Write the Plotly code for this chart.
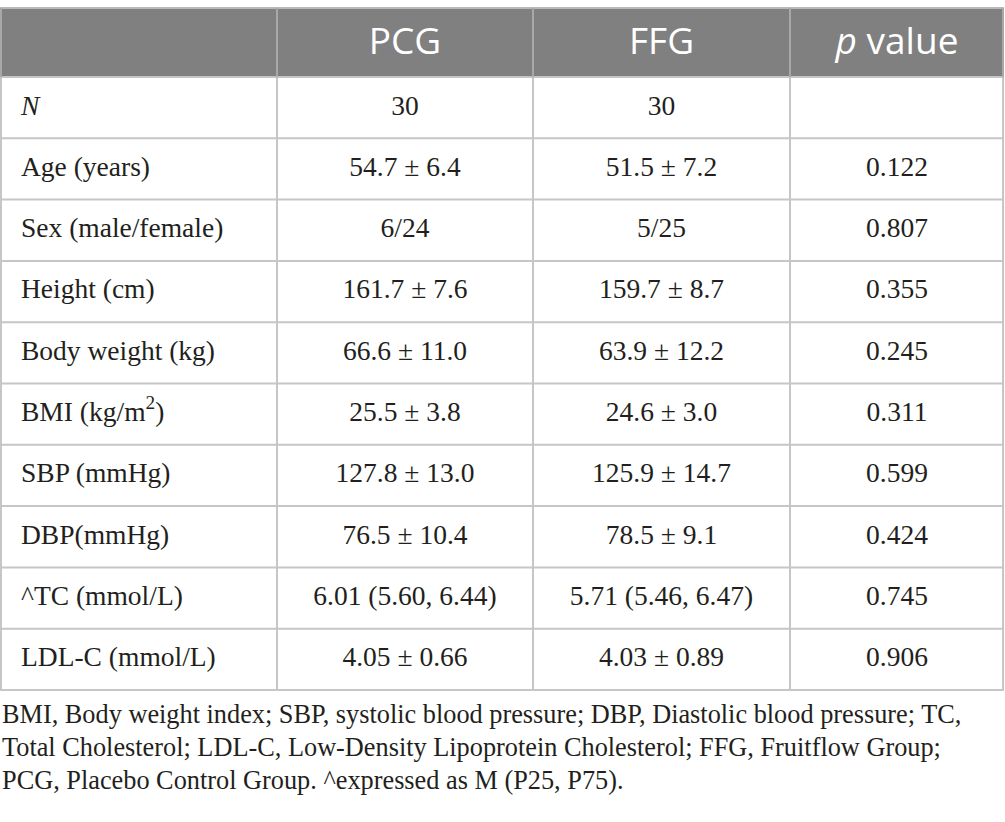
import plotly.graph_objects as go

# table contents
headers = ["", "PCG", "FFG", "<i>p</i> value"]
variables = ["<i>N</i>", "Age (years)", "Sex (male/female)", "Height (cm)",
             "Body weight (kg)", "BMI (kg/m<sup>2</sup>)", "SBP (mmHg)",
             "DBP(mmHg)", "^TC (mmol/L)", "LDL-C (mmol/L)"]
pcg = ["30", "54.7 ± 6.4", "6/24", "161.7 ± 7.6", "66.6 ± 11.0", "25.5 ± 3.8",
       "127.8 ± 13.0", "76.5 ± 10.4", "6.01 (5.60, 6.44)", "4.05 ± 0.66"]
ffg = ["30", "51.5 ± 7.2", "5/25", "159.7 ± 8.7", "63.9 ± 12.2", "24.6 ± 3.0",
       "125.9 ± 14.7", "78.5 ± 9.1", "5.71 (5.46, 6.47)", "4.03 ± 0.89"]
p_values = ["", "0.122", "0.807", "0.355", "0.245", "0.311",
            "0.599", "0.424", "0.745", "0.906"]
footnote = [
    "BMI, Body weight index; SBP, systolic blood pressure; DBP, Diastolic blood pressure; TC,",
    "Total Cholesterol; LDL-C, Low-Density Lipoprotein Cholesterol; FFG, Fruitflow Group;",
    "PCG, Placebo Control Group. ^expressed as M (P25, P75).",
]

# layout of the grid (pixels)
col_w = [277, 256, 257, 214]
top, head_h, row_h = 8, 69, 61.3
edges = [0]
for w in col_w:
    edges.append(edges[-1] + w)
centers = [(edges[i] + edges[i + 1]) / 2 for i in range(len(col_w))]
n = len(variables)
row_top = [top + head_h + i * row_h for i in range(n + 1)]
row_mid = [(row_top[i] + row_top[i + 1]) / 2 for i in range(n)]
bottom = row_top[-1]

body_font = dict(family="Liberation Serif", size=27.5, color="#231f20")
line_col = "#c6c6c6"


def text_trace(xs, ys, texts, pos, font):
    keep = [k for k, t in enumerate(texts) if t]   # skip empty cells
    return go.Scatter(x=[xs[k] for k in keep], y=[ys[k] for k in keep],
                      text=[texts[k] for k in keep], mode="text",
                      textposition=pos, textfont=font, hoverinfo="skip")


fig = go.Figure()

# header background
fig.add_shape(type="rect", x0=edges[0], x1=edges[-1], y0=top, y1=top + head_h,
              fillcolor="#808080", line_width=0, layer="below")

# header text
fig.add_trace(text_trace(centers, [top + head_h / 2 + 2] * 4, headers, "middle center",
                         dict(family="Open Sans", size=37, color="white")))

# body columns
fig.add_trace(text_trace([edges[0] + 21] * n, row_mid, variables, "middle right", body_font))
for j, col in enumerate([pcg, ffg, p_values]):
    fig.add_trace(text_trace([centers[j + 1]] * n, row_mid, col, "middle center", body_font))

# grid lines
fig.add_shape(type="line", x0=edges[0], x1=edges[-1], y0=top, y1=top,
              line=dict(color="#b8b8b8", width=2))
for y in row_top:
    fig.add_shape(type="line", x0=edges[0], x1=edges[-1], y0=y, y1=y,
                  line=dict(color=line_col, width=2))
for x in edges:
    x = min(max(x, 1), edges[-1] - 1)
    fig.add_shape(type="line", x0=x, x1=x, y0=top, y1=top + head_h,
                  line=dict(color="#a8a8a8", width=2))
    fig.add_shape(type="line", x0=x, x1=x, y0=top + head_h, y1=bottom,
                  line=dict(color=line_col, width=2))

# footnote
for i, line in enumerate(footnote):
    fig.add_annotation(text=line, x=0, y=bottom + 24 + i * 33.3, xref="x", yref="y",
                       xanchor="left", yanchor="middle", showarrow=False,
                       font=dict(family="Liberation Serif", size=26.3, color="#231f20"))

fig.update_xaxes(range=[0, 1005], visible=False, fixedrange=True)
fig.update_yaxes(range=[822, 0], visible=False, fixedrange=True)
fig.update_layout(width=1005, height=822, margin=dict(l=0, r=0, t=0, b=0),
                  paper_bgcolor="white", plot_bgcolor="white", showlegend=False)
# drop the page's default body margin so the figure fills the window
fig.write_html("out.html", config={"displayModeBar": False},
               post_script="document.body.style.margin='0';")
